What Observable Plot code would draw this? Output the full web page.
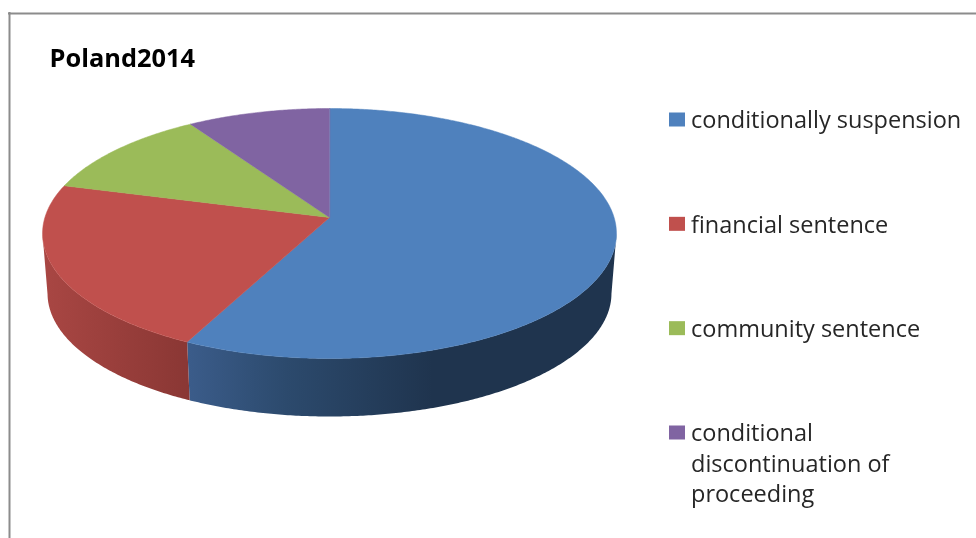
<!DOCTYPE html>
<html>
<head>
<meta charset="utf-8">
<script src="https://cdn.jsdelivr.net/npm/d3@7"></script>
<script src="https://cdn.jsdelivr.net/npm/@observablehq/plot@0.6"></script>
<style>
  html, body { margin: 0; padding: 0; background: #fff; overflow: hidden; }
  svg { display: block; filter: blur(0.45px); }
</style>
</head>
<body>
<div id="chart"></div>
<script>
const title = "Poland2014";
const categories = ["conditionally suspension", "financial sentence", "community sentence", "conditional\ndiscontinuation of\nproceeding"];
const shares = [57.3, 22.0, 11.6, 9.1];
const colors = ["#4f81bd", "#c0504d", "#9bbb59", "#8064a2"];
const wallStops = [
  [[0, "#3b5c8a"], [0.4, "#2c4a6d"], [1, "#1f344e"]],
  [[0, "#a84643"], [1, "#8a3734"]]
];

// Pie geometry (perspective disc)
const apex = {x: 329, y: 217}, R = 284.6, S = 122.95, k = 0.128;
const rim = {cx: 329, cy: 233, rx: 287, ry: 125};
const base = {cy: 293, rx: 282, ry: 123};
const toRad = Math.PI / 180;
const project = deg => {
  const X = Math.sin(deg * toRad), Y = Math.cos(deg * toRad), w = 1 + k * Y;
  return {x: apex.x + R * X / w, y: apex.y - S * Y / w};
};
const lower = p => ({
  x: rim.cx + (p.x - rim.cx) * base.rx / rim.rx,
  y: base.cy + (p.y - rim.cy) * base.ry / rim.ry
});

const total = d3.sum(shares);
let acc = 0;
const slices = shares.map((v, i) => {
  const a0 = acc / total * 360; acc += v; const a1 = acc / total * 360;
  const arc = d3.range(a0, a1, 0.5).concat(a1).map(project);
  return {i, a0, a1, arc};
});

const wallMarks = slices.flatMap(s => {
  const top = s.arc.filter(p => p.y >= rim.cy);
  if (top.length < 2) return [];
  const pts = top.concat(top.slice().reverse().map(lower));
  return [Plot.line(pts, {x: "x", y: "y", curve: "linear-closed", fill: `url(#wall${s.i})`, stroke: "none"})];
});
const topMarks = slices.map(s =>
  Plot.line([apex, ...s.arc], {x: "x", y: "y", curve: "linear-closed", fill: colors[s.i], stroke: colors[s.i], strokeWidth: 0.5})
);

const defs = () => {
  const d = d3.create("svg:defs");
  const spans = [[188, 432], [46, 188]];
  wallStops.forEach((stops, i) => {
    const g = d.append("linearGradient").attr("id", `wall${i}`).attr("gradientUnits", "userSpaceOnUse")
      .attr("x1", spans[i][0]).attr("x2", spans[i][1]).attr("y1", 0).attr("y2", 0);
    stops.forEach(([o, c]) => g.append("stop").attr("offset", o).attr("stop-color", c));
  });
  return d.node();
};

// Legend layout
const legendY = d3.scalePoint(categories, [120, 433]);
const legend = categories.map((c, i) => ({label: c, y: legendY(c), color: colors[i]}));
const fontFamily = "'Open Sans', sans-serif";

const chart = Plot.plot({
  width: 976, height: 538,
  margin: 0,
  x: {type: "identity", axis: null},
  y: {type: "identity", axis: null},
  marks: [
    defs,
    Plot.ruleX([9], {y1: 12, y2: 538, stroke: "#8c8c8c", strokeWidth: 2}),
    Plot.ruleY([13], {x1: 8, x2: 976, stroke: "#8c8c8c", strokeWidth: 2}),
    ...wallMarks,
    ...topMarks,
    Plot.text([title], {x: 49, y: 58, text: d => d, textAnchor: "start", fontSize: 25.4, fontWeight: 700, fontFamily, fill: "#000"}),
    Plot.rect(legend, {x1: 669, x2: 685, y1: d => d.y - 7.5, y2: d => d.y + 6.5, fill: "color"}),
    Plot.text(legend, {x: 690.5, y: d => d.y - 14, text: "label", lineAnchor: "top", lineHeight: 1.3, textAnchor: "start", fontSize: 23.5, fontFamily, fill: "#262626"})
  ]
});
document.getElementById("chart").append(chart);
</script>
</body>
</html>
